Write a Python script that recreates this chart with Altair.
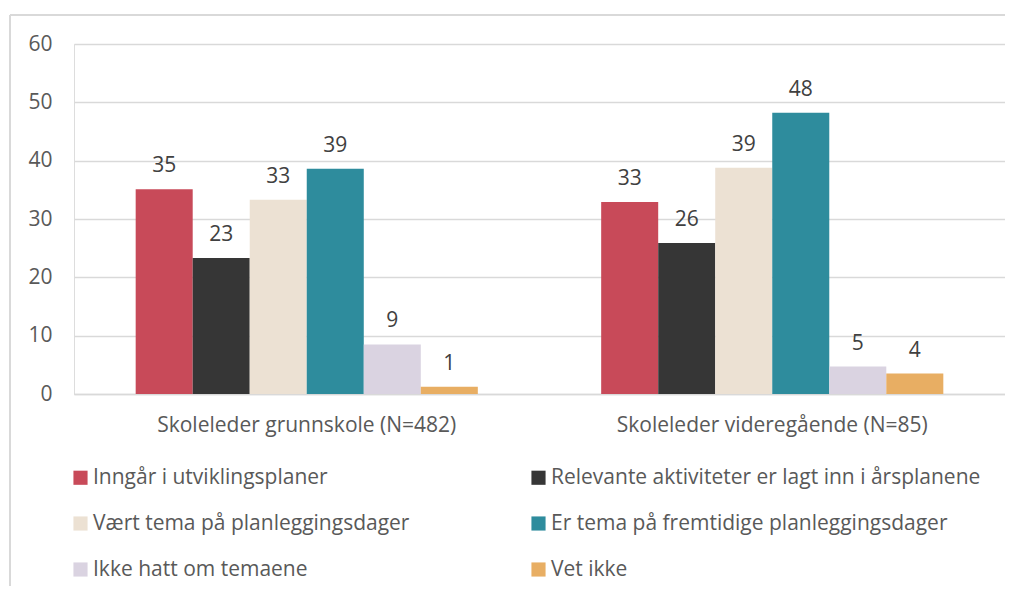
import altair as alt
import pandas as pd

groups = ["Skoleleder grunnskole (N=482)", "Skoleleder videregående (N=85)"]
series = [
    "Inngår i utviklingsplaner",
    "Relevante aktiviteter er lagt inn i årsplanene",
    "Vært tema på planleggingsdager",
    "Er tema på fremtidige planleggingsdager",
    "Ikke hatt om temaene",
    "Vet ikke",
]
colors = ["#C84A59", "#363636", "#ECE1D3", "#2E8C9D", "#DAD3E1", "#E8AE63"]
values_grunnskole = [35.1, 23.3, 33.3, 38.6, 8.5, 1.25]
values_videregaende = [32.9, 25.9, 38.8, 48.2, 4.7, 3.5]
labels_grunnskole = ["35", "23", "33", "39", "9", "1"]
labels_videregaende = ["33", "26", "39", "48", "5", "4"]
y_ticks = [0, 10, 20, 30, 40, 50, 60]

rows = []
for g, vals, labs in [
    (groups[0], values_grunnskole, labels_grunnskole),
    (groups[1], values_videregaende, labels_videregaende),
]:
    for s, v, l in zip(series, vals, labs):
        rows.append({"group": g, "series": s, "value": v, "label": l})
df = pd.DataFrame(rows)

FONT = "Open Sans"
FS = 21
TXT = "#595959"
GRID = "#D9D9D9"

x_enc = alt.X(
    "group:N",
    sort=groups,
    title=None,
    scale=alt.Scale(paddingInner=0.265, paddingOuter=0.1325),
    axis=alt.Axis(
        labelAngle=0,
        labelFontSize=FS,
        labelColor=TXT,
        labelFont=FONT,
        labelPadding=20,
        labelLimit=600,
        ticks=False,
        domainColor=GRID,
        domainWidth=1.5,
    ),
)
y_enc = alt.Y(
    "value:Q",
    title=None,
    scale=alt.Scale(domain=[0, 60], nice=False),
    axis=alt.Axis(
        values=y_ticks,
        labelFontSize=FS,
        labelColor=TXT,
        labelFont=FONT,
        labelPadding=22,
        ticks=False,
        domain=False,
        gridColor=GRID,
        gridWidth=1.5,
    ),
)
xoff = alt.XOffset("series:N", sort=series, scale=alt.Scale(paddingInner=0, paddingOuter=0))

bars = alt.Chart(df).mark_bar().encode(
    x=x_enc,
    y=y_enc,
    xOffset=xoff,
    color=alt.Color(
        "series:N",
        sort=series,
        scale=alt.Scale(domain=series, range=colors),
        legend=alt.Legend(
            title=None,
            orient="none",
            direction="horizontal",
            legendX=-4,
            legendY=423,
            columns=2,
            columnPadding=118,
            rowPadding=24,
            symbolType="square",
            symbolSize=200,
            symbolStrokeWidth=0,
            labelFontSize=FS,
            labelFont=FONT,
            labelColor=TXT,
            labelLimit=600,
            labelOffset=2,
        ),
    ),
)

text = alt.Chart(df).mark_text(
    baseline="alphabetic", dy=-17, fontSize=FS, font=FONT, color="#404040"
).encode(
    x=alt.X("group:N", sort=groups),
    y="value:Q",
    xOffset=xoff,
    text="label:N",
)

frame_df = pd.DataFrame({"k": [0]})
frame_top = alt.Chart(frame_df).mark_rule(color=GRID, strokeWidth=2).encode(
    x=alt.value(-64), x2=alt.value(960), y=alt.value(-29)
)
frame_left = alt.Chart(frame_df).mark_rule(color=GRID, strokeWidth=2).encode(
    x=alt.value(-64), y=alt.value(-29), y2=alt.value(560)
)

chart = (
    alt.layer(bars, text, frame_top, frame_left)
    .properties(
        width=931,
        height=350,
        autosize=alt.AutoSizeParams(type="none"),
        padding={"left": 66, "top": 36, "right": 0, "bottom": 192},
    )
    .configure_view(stroke=None)
    .configure(background="white")
)

chart.save("out.html", embed_options={"renderer": "svg", "actions": False})
